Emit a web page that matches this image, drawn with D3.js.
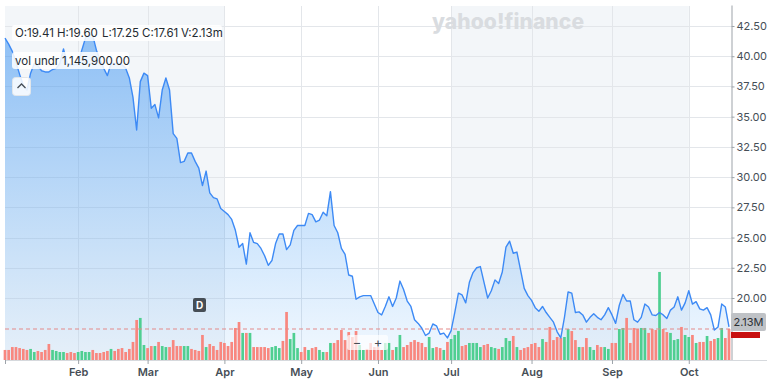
<!DOCTYPE html>
<html><head><meta charset="utf-8">
<script src="https://cdn.jsdelivr.net/npm/d3@7"></script>
<style>
html,body{margin:0;padding:0;background:#fff;}
svg{display:block;font-family:Inter,"Helvetica Neue",Arial,sans-serif;}
</style></head><body>
<svg id="chart" width="780" height="381"></svg>
<script>
// ---- data (daily closes, trading-day index 0 = early Jan) ----
const prices = [41.5,41.0,40.4,39.5,38.5,37.6,37.2,38.6,39.4,39.2,
 38.8,38.7,38.7,38.9,39.0,39.4,40.6,39.4,39.3,39.3,
 39.4,40.5,41.5,41.8,41.7,40.5,39.7,39.0,38.4,39.4,
 39.4,39.4,39.3,39.0,38.2,36.6,33.9,37.9,38.6,38.4,
 35.7,36.0,34.9,37.2,38.2,37.2,33.6,33.2,31.2,31.3,
 32.0,32.0,31.3,30.75,29.3,30.5,28.7,28.3,28.2,27.4,
 27.15,26.9,26.5,25.6,24.2,24.5,22.8,25.4,24.6,24.5,
 24.1,23.5,22.7,23.1,24.5,25.3,25.3,24.0,24.4,25.6,
 26.0,26.0,26.0,27.0,26.9,26.3,26.45,27.1,26.8,28.8,
 26.0,25.4,24.1,23.6,21.9,21.8,19.9,20.1,20.2,20.2,
 20.2,19.5,18.8,18.6,19.3,20.1,19.3,20.0,21.4,20.7,
 19.75,19.3,18.2,17.9,17.5,16.9,17.1,17.85,17.7,17.0,
 17.1,16.7,17.3,18.8,20.4,20.25,19.6,21.3,22.1,22.5,
 22.6,21.3,20.0,20.6,21.5,21.2,22.15,24.2,24.7,23.7,
 23.8,22.3,20.8,20.2,19.8,19.2,18.9,19.3,18.8,18.4,
 18.0,17.2,16.7,18.4,20.5,20.4,18.8,18.85,18.6,18.0,
 18.4,18.7,18.4,18.2,18.6,19.2,18.6,17.9,19.4,20.3,
 19.75,19.75,18.2,18.0,18.4,19.5,19.25,18.6,18.55,18.8,
 18.6,18.3,19.0,19.25,20.1,19.0,19.6,20.6,19.5,19.7,
 19.1,19.0,19.2,18.6,17.35,17.6,19.5,19.25,17.61];

// daily volume, millions
const volumes = [0.69,0.69,0.89,0.89,0.82,0.76,0.69,0.76,0.55,0.62,
 0.55,0.69,1.10,0.69,0.62,0.55,0.55,0.48,0.55,0.48,
 0.55,0.62,0.55,0.55,0.69,0.48,0.48,0.55,0.62,0.76,
 0.62,0.76,0.82,0.55,0.76,1.24,2.75,2.89,1.03,0.82,
 0.96,0.96,1.24,0.96,0.89,0.89,1.37,0.96,0.96,0.96,
 0.96,0.76,0.69,0.62,1.72,0.89,1.10,0.96,0.69,1.24,
 1.17,0.96,1.24,2.20,2.61,1.86,1.86,1.86,0.89,0.89,
 0.89,0.89,0.82,0.89,0.96,0.82,1.31,3.30,1.44,1.86,
 0.82,0.55,0.89,0.69,0.82,0.89,0.69,0.55,0.55,1.17,
 1.17,1.37,2.06,1.37,1.92,1.58,1.99,1.03,0.69,0.76,
 1.17,0.89,0.89,0.69,1.17,1.17,0.69,0.89,1.72,0.89,
 1.03,1.24,1.37,1.24,1.17,0.89,1.58,0.82,0.89,0.82,
 0.69,1.24,1.44,1.72,1.99,0.96,1.03,1.17,1.17,1.17,
 0.89,1.03,1.10,0.89,0.82,0.76,0.89,1.51,1.31,1.65,
 0.89,0.69,0.82,0.89,1.10,1.17,0.89,1.44,1.24,2.27,
 1.37,1.58,1.51,1.58,2.13,1.99,1.37,0.89,0.89,1.51,
 0.89,0.69,1.03,0.89,0.89,0.76,1.17,1.17,2.13,2.20,
 2.89,1.17,2.20,2.13,2.20,2.20,1.86,2.13,2.06,6.05,
 2.13,1.92,1.86,1.37,1.44,2.27,1.72,1.58,1.72,1.17,
 1.24,1.24,1.65,1.31,1.44,1.51,2.20,1.51,2.13];

const monthLabels = ["Feb","Mar","Apr","May","Jun","Jul","Aug","Sep","Oct"];
const monthIdx    = [20, 39, 60, 81, 102, 122, 144, 166, 187];
const priceTicks  = [20, 22.5, 25, 27.5, 30, 32.5, 35, 37.5, 40, 42.5];
const shadedSpans = [[0, 60], [122, 187]]; // quarter shading, in trading-day indices
const lastVolume = 2.13;
const volLabel = "2.13M";
const ohlc = [["O:19.41",15],["H:19.60",57],["L:17.25",102],["C:17.61",142],["V:2.13m",181]];
const volStudy = ["vol undr", "1,145,900.00"];

// ---- layout ----
const L = 5, R = 729, AX = 731, TOP = 5, BOT = 360;
const svg = d3.select("#chart");
const x = d3.scaleLinear().domain([0, prices.length - 1]).range([L, R]);
const y = d3.scaleLinear().domain([14.872, 44.237]).range([BOT, TOP]);
const yVol = d3.scaleLinear().domain([0, 6.5]).range([BOT, 265.4]);

const defs = svg.append("defs");
const grad = defs.append("linearGradient").attr("id","ag")
  .attr("gradientUnits","userSpaceOnUse").attr("x1",0).attr("x2",0).attr("y1",20).attr("y2",BOT);
grad.append("stop").attr("offset","0").attr("stop-color","#0a78f0").attr("stop-opacity",0.45);
grad.append("stop").attr("offset","1").attr("stop-color","#1a8af5").attr("stop-opacity",0.06);

// shaded quarters
svg.selectAll("rect.band").data(shadedSpans).join("rect").attr("class","band")
  .attr("x", d => x(d[0])).attr("width", d => x(d[1]) - x(d[0]))
  .attr("y", TOP + 1).attr("height", BOT - TOP - 1).attr("fill", "#f3f6f9");

// grid
svg.append("g").selectAll("line").data(priceTicks).join("line")
  .attr("x1", L).attr("x2", AX).attr("y1", d => Math.round(y(d)) + 0.5).attr("y2", d => Math.round(y(d)) + 0.5)
  .attr("stroke", "#e3e6ea").attr("stroke-width", 1);
svg.append("g").selectAll("line").data(monthIdx).join("line")
  .attr("x1", d => Math.round(x(d)) + 0.5).attr("x2", d => Math.round(x(d)) + 0.5)
  .attr("y1", TOP + 1).attr("y2", BOT).attr("stroke", "#e3e6ea").attr("stroke-width", 1);

// watermark
svg.append("text").attr("x", 432).attr("y", 29).attr("textLength", 152)
  .attr("font-size", 21).attr("font-weight", 800).attr("fill", "#d9dce0")
  .attr("font-family", "Inter, Arial, sans-serif").text("yahoo!finance");

// area + line
const area = d3.area().x((d, i) => x(i)).y0(BOT).y1(d => y(d));
svg.append("path").datum(prices).attr("d", area).attr("fill", "url(#ag)");

// volume bars
const bw = 2.7;
svg.append("g").selectAll("rect").data(volumes).join("rect")
  .attr("x", (d, i) => x(i) - bw / 2).attr("width", bw)
  .attr("y", d => yVol(d)).attr("height", d => BOT - yVol(d))
  .attr("fill", (d, i) => (i > 0 && prices[i] > prices[i - 1]) ? "#4fcf91" : "#f8877f");

// dashed last-volume line
svg.append("line").attr("x1", L).attr("x2", AX)
  .attr("y1", yVol(lastVolume)).attr("y2", yVol(lastVolume))
  .attr("stroke", "#e38a8a").attr("stroke-width", 1.2).attr("stroke-dasharray", "4,3");

const line = d3.line().x((d, i) => x(i)).y(d => y(d));
svg.append("path").datum(prices).attr("d", line).attr("fill", "none")
  .attr("stroke", "#3d8af5").attr("stroke-width", 1.4).attr("stroke-linejoin", "round");

// right axis
const yAxis = svg.append("g").attr("transform", `translate(${AX + 0.5},0)`)
  .call(d3.axisRight(y).tickValues(priceTicks).tickFormat(d3.format(".2f")).tickSize(3).tickSizeOuter(0).tickPadding(2));
yAxis.select(".domain").attr("stroke", "#9da3a9");
yAxis.selectAll(".tick line").attr("stroke", "#9da3a9");
yAxis.selectAll("text").attr("font-size", 11).attr("fill", "#464e56").attr("font-family", "Inter, Arial, sans-serif");

// bottom axis
svg.append("line").attr("x1", L).attr("x2", 767).attr("y1", BOT + 0.5).attr("y2", BOT + 0.5).attr("stroke", "#d6d9dd");
const xAxis = svg.append("g").attr("transform", `translate(0,${BOT})`)
  .call(d3.axisBottom(x).tickValues(monthIdx).tickFormat((d, i) => monthLabels[i]).tickSize(4).tickSizeOuter(0).tickPadding(4));
xAxis.select(".domain").remove();
xAxis.selectAll(".tick line").attr("stroke", "#9da3a9");
xAxis.selectAll("text").attr("font-size", 11).attr("font-weight", 600).attr("fill", "#464e56").attr("font-family", "Inter, Arial, sans-serif");
svg.append("line").attr("x1", L + 0.5).attr("x2", L + 0.5).attr("y1", BOT).attr("y2", BOT + 4).attr("stroke", "#9da3a9");

// volume label on axis
svg.append("rect").attr("x", AX).attr("y", 313).attr("width", 35).attr("height", 18).attr("rx", 2).attr("fill", "#bfc2c6");
svg.append("text").attr("x", AX + 17.5).attr("y", 326).attr("text-anchor", "middle")
  .attr("font-size", 11).attr("fill", "#2c3136").text(volLabel);
svg.append("rect").attr("x", AX).attr("y", 332).attr("width", 29).attr("height", 6).attr("fill", "#c8100f");

// legend boxes
svg.append("rect").attr("x", 12).attr("y", 25).attr("width", 210).attr("height", 16).attr("rx", 3).attr("fill", "rgba(255,255,255,0.85)");
svg.append("g").selectAll("text").data(ohlc).join("text")
  .attr("x", d => d[1]).attr("y", 37).attr("font-size", 11.5).attr("fill", "#232a31").text(d => d[0]);
svg.append("rect").attr("x", 12).attr("y", 52).attr("width", 117).attr("height", 17).attr("rx", 3).attr("fill", "rgba(255,255,255,0.85)");
svg.append("text").attr("x", 15).attr("y", 65).attr("font-size", 11.5).attr("fill", "#232a31").text(volStudy[0]);
svg.append("text").attr("x", 62).attr("y", 65).attr("font-size", 11.5).attr("fill", "#232a31").text(volStudy[1]);
svg.append("rect").attr("x", 12.5).attr("y", 77.5).attr("width", 18).attr("height", 18).attr("rx", 3)
  .attr("fill", "rgba(255,255,255,0.85)").attr("stroke", "#e2e6ea");
svg.append("path").attr("d", "M17.5,88 L21.5,84 L25.5,88").attr("fill", "none").attr("stroke", "#464e56").attr("stroke-width", 1.3);

// "D" marker
svg.append("rect").attr("x", 193).attr("y", 298).attr("width", 13).attr("height", 14).attr("rx", 2).attr("fill", "#464e56");
svg.append("text").attr("x", 199.5).attr("y", 309).attr("text-anchor", "middle").attr("font-size", 10)
  .attr("font-weight", 700).attr("fill", "#fff").text("D");

// zoom control
svg.append("rect").attr("x", 347).attr("y", 335).attr("width", 41).attr("height", 15).attr("rx", 2).attr("fill", "rgba(255,255,255,0.7)");
svg.append("text").attr("x", 357).attr("y", 347).attr("text-anchor", "middle").attr("font-size", 13).attr("fill", "#464e56").text("−");
svg.append("text").attr("x", 378).attr("y", 347).attr("text-anchor", "middle").attr("font-size", 13).attr("fill", "#464e56").text("+");
</script>
</body></html>
